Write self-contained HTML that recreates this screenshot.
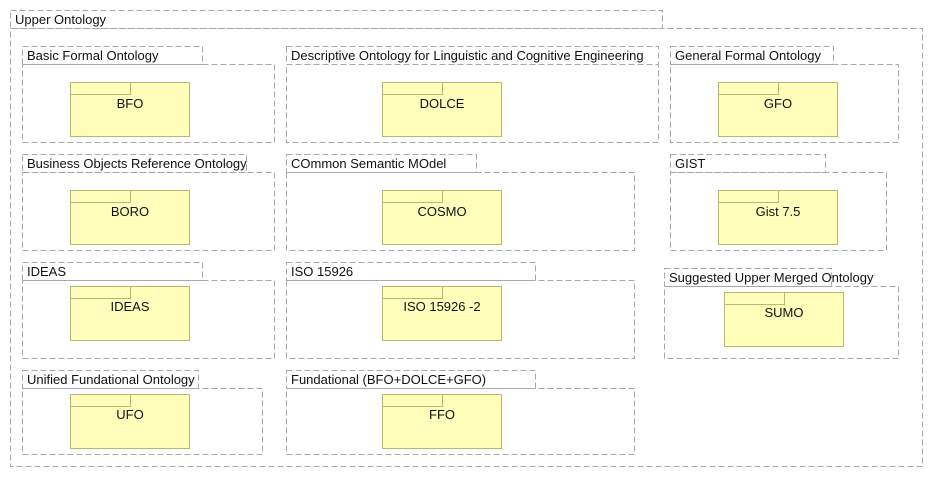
<!DOCTYPE html>
<html><head><meta charset="utf-8"><style>
html,body{margin:0;padding:0;background:#fff;width:933px;height:477px;overflow:hidden}
svg text{font-family:"Liberation Sans",sans-serif;font-size:13px;fill:#111}
.d{fill:none;stroke:#a8a8a8;stroke-width:1;stroke-dasharray:6,3}
.y{fill:#ffffbb;stroke:#b8b870;stroke-width:1}
</style></head><body>
<svg width="933" height="477" xmlns="http://www.w3.org/2000/svg">
<rect class="d" x="10.5" y="10.5" width="652" height="18"/>
<rect class="d" x="10.5" y="28.5" width="912" height="438"/>
<text x="15" y="24">Upper Ontology</text>

<rect class="d" x="22.5" y="46.5" width="180" height="18"/>
<rect class="d" x="22.5" y="64.5" width="252" height="78"/>
<text x="27" y="60">Basic Formal Ontology</text>
<rect class="y" x="70.5" y="82.5" width="119" height="54"/><path class="y" d="M70.5 94.5H130.5V82.5"/>
<text x="130" y="108" text-anchor="middle">BFO</text>

<rect class="d" x="22.5" y="154.5" width="224" height="18"/>
<rect class="d" x="22.5" y="172.5" width="252" height="78"/>
<text x="27" y="168">Business Objects Reference Ontology</text>
<rect class="y" x="70.5" y="190.5" width="119" height="54"/><path class="y" d="M70.5 202.5H130.5V190.5"/>
<text x="130" y="216" text-anchor="middle">BORO</text>

<rect class="d" x="22.5" y="262.5" width="180" height="18"/>
<rect class="d" x="22.5" y="280.5" width="252" height="78"/>
<text x="27" y="276">IDEAS</text>
<rect class="y" x="70.5" y="286.5" width="119" height="54"/><path class="y" d="M70.5 298.5H130.5V286.5"/>
<text x="130" y="311" text-anchor="middle">IDEAS</text>

<rect class="d" x="22.5" y="370.5" width="176" height="18"/>
<rect class="d" x="22.5" y="388.5" width="240" height="66"/>
<text x="27" y="384">Unified Fundational Ontology</text>
<rect class="y" x="70.5" y="394.5" width="119" height="54"/><path class="y" d="M70.5 406.5H130.5V394.5"/>
<text x="130" y="419" text-anchor="middle">UFO</text>

<rect class="d" x="286.5" y="46.5" width="372" height="18"/>
<rect class="d" x="286.5" y="64.5" width="372" height="78"/>
<text x="291" y="60">Descriptive Ontology for Linguistic and Cognitive Engineering</text>
<rect class="y" x="382.5" y="82.5" width="119" height="54"/><path class="y" d="M382.5 94.5H442.5V82.5"/>
<text x="442" y="108" text-anchor="middle">DOLCE</text>

<rect class="d" x="286.5" y="154.5" width="190" height="18"/>
<rect class="d" x="286.5" y="172.5" width="348" height="78"/>
<text x="291" y="168">COmmon Semantic MOdel</text>
<rect class="y" x="382.5" y="190.5" width="119" height="54"/><path class="y" d="M382.5 202.5H442.5V190.5"/>
<text x="442" y="216" text-anchor="middle">COSMO</text>

<rect class="d" x="286.5" y="262.5" width="249" height="18"/>
<rect class="d" x="286.5" y="280.5" width="348" height="78"/>
<text x="291" y="276">ISO 15926</text>
<rect class="y" x="382.5" y="286.5" width="119" height="54"/><path class="y" d="M382.5 298.5H442.5V286.5"/>
<text x="442" y="311" text-anchor="middle">ISO 15926 -2</text>

<rect class="d" x="286.5" y="370.5" width="249" height="18"/>
<rect class="d" x="286.5" y="388.5" width="348" height="66"/>
<text x="291" y="384">Fundational (BFO+DOLCE+GFO)</text>
<rect class="y" x="382.5" y="394.5" width="119" height="54"/><path class="y" d="M382.5 406.5H442.5V394.5"/>
<text x="442" y="419" text-anchor="middle">FFO</text>

<rect class="d" x="670.5" y="46.5" width="163" height="18"/>
<rect class="d" x="670.5" y="64.5" width="228" height="78"/>
<text x="675" y="60">General Formal Ontology</text>
<rect class="y" x="718.5" y="82.5" width="119" height="54"/><path class="y" d="M718.5 94.5H778.5V82.5"/>
<text x="778" y="108" text-anchor="middle">GFO</text>

<rect class="d" x="670.5" y="154.5" width="155" height="18"/>
<rect class="d" x="670.5" y="172.5" width="216" height="78"/>
<text x="675" y="168">GIST</text>
<rect class="y" x="718.5" y="190.5" width="119" height="54"/><path class="y" d="M718.5 202.5H778.5V190.5"/>
<text x="778" y="216" text-anchor="middle">Gist 7.5</text>

<rect class="d" x="664.5" y="268.5" width="167" height="18"/>
<rect class="d" x="664.5" y="286.5" width="234" height="72"/>
<text x="669" y="282">Suggested Upper Merged Ontology</text>
<rect class="y" x="724.5" y="292.5" width="119" height="54"/><path class="y" d="M724.5 304.5H784.5V292.5"/>
<text x="784" y="317" text-anchor="middle">SUMO</text>
</svg>
</body></html>
